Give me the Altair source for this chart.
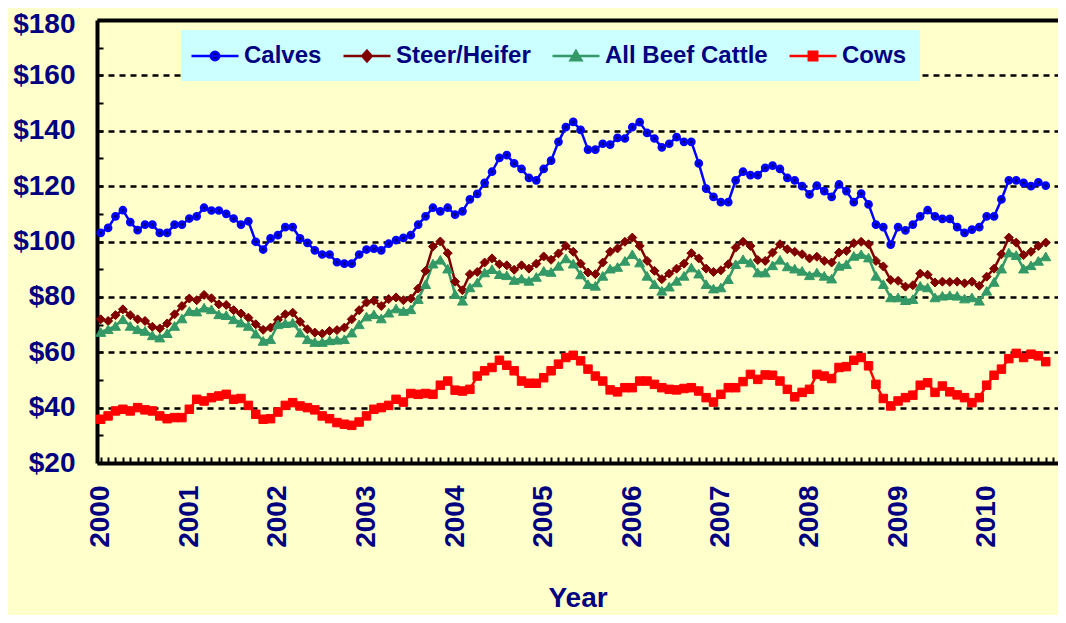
import altair as alt
import pandas as pd

# ---------------- data (monthly, Jan 2000 .. Sep 2010) ----------------
series_names = ["Calves", "Steer/Heifer", "All Beef Cattle", "Cows"]
line_colors = ["#0000FF", "#800000", "#339966", "#FF0000"]
fill_colors = ["#00007A", "#800000", "#339966", "#FF0000"]
marker_shapes = ["circle", "diamond", "triangle-up", "square"]
start_year = 2000

calves = [103.1, 104.9, 109.1, 111.3, 107.0, 104.1, 106.1, 106.1, 103.1, 103.1, 106.1, 106.1,
          108.3, 109.1, 112.2, 111.2, 111.2, 110.0, 108.3, 106.1, 107.3, 99.9, 97.1, 101.1,
          102.3, 105.2, 105.2, 101.1, 99.5, 96.8, 95.3, 95.3, 92.5, 92.0, 92.0, 95.3,
          97.1, 97.4, 96.8, 99.2, 100.5, 101.3, 102.3, 106.1, 109.1, 112.2, 110.9, 112.2,
          109.7, 110.9, 115.2, 117.2, 121.2, 125.2, 130.2, 131.2, 128.2, 126.2, 123.0, 122.1,
          126.2, 129.2, 136.0, 141.3, 143.2, 140.3, 133.2, 133.2, 135.3, 135.0, 137.4, 137.2,
          141.3, 143.1, 139.2, 137.2, 134.0, 135.3, 137.7, 136.0, 136.0, 128.2, 119.1, 116.1,
          114.2, 114.2, 122.1, 125.2, 124.0, 124.0, 126.6, 127.4, 126.2, 123.0, 122.1, 120.0,
          117.0, 120.2, 118.2, 116.1, 120.6, 118.2, 114.2, 117.3, 113.4, 106.1, 105.2, 98.9,
          105.2, 104.0, 106.1, 109.1, 111.3, 109.1, 108.2, 108.2, 105.2, 103.1, 104.3, 105.2,
          109.1, 109.1, 115.2, 122.1, 122.1, 121.2, 120.0, 121.4, 120.2]

steer = [71.9, 71.3, 73.4, 75.5, 73.4, 71.9, 71.3, 69.2, 68.6, 70.4, 73.7, 76.7,
         79.4, 78.8, 80.7, 79.5, 77.3, 77.1, 75.2, 74.0, 72.5, 70.1, 68.1, 68.9,
         71.7, 73.7, 74.3, 71.0, 68.3, 67.1, 66.7, 67.7, 68.0, 68.9, 71.9, 75.2,
         78.0, 78.6, 76.7, 79.2, 79.8, 78.8, 79.4, 83.0, 89.4, 98.2, 100.0, 95.8,
         85.5, 82.4, 88.2, 89.0, 92.4, 93.9, 91.8, 91.4, 89.8, 91.4, 90.2, 92.0,
         94.6, 93.4, 95.7, 98.4, 96.3, 92.0, 88.8, 88.2, 92.4, 96.3, 97.5, 99.9,
         101.4, 98.4, 93.0, 89.4, 86.4, 88.4, 90.2, 92.0, 95.8, 93.9, 90.2, 89.0,
         89.6, 91.8, 97.8, 99.9, 98.4, 93.3, 93.0, 96.0, 99.0, 97.2, 96.3, 95.4,
         93.9, 94.5, 93.0, 92.4, 96.0, 96.6, 99.4, 99.9, 99.0, 93.0, 91.0, 86.1,
         85.8, 83.7, 84.2, 88.4, 88.0, 85.2, 85.5, 85.4, 85.5, 84.9, 85.5, 84.0,
         87.3, 90.2, 95.4, 101.4, 99.6, 95.1, 96.3, 98.4, 99.6]

all_beef = [67.3, 68.3, 69.5, 71.9, 69.5, 68.3, 67.7, 66.1, 65.3, 66.9, 69.5, 72.2,
            74.9, 74.7, 76.1, 75.5, 73.7, 73.4, 71.9, 70.7, 69.5, 66.7, 64.1, 64.7,
            70.1, 70.5, 70.7, 67.1, 64.7, 63.7, 63.7, 64.3, 64.5, 64.7, 67.1, 70.1,
            72.9, 73.7, 72.2, 74.3, 75.8, 74.9, 75.5, 79.2, 84.6, 92.0, 93.4, 90.2,
            81.0, 78.6, 83.4, 85.2, 88.8, 90.0, 88.2, 87.8, 86.1, 86.6, 85.8, 87.2,
            89.4, 89.0, 91.2, 93.9, 92.0, 88.1, 84.6, 84.0, 87.6, 90.2, 90.8, 93.0,
            95.4, 92.4, 87.6, 84.6, 82.2, 83.7, 85.8, 87.6, 90.6, 88.4, 84.6, 83.0,
            83.4, 86.4, 91.8, 93.6, 92.4, 88.8, 88.8, 91.4, 93.4, 91.0, 90.2, 89.4,
            87.8, 88.8, 87.6, 86.6, 91.2, 91.8, 94.8, 95.4, 94.2, 87.6, 84.6, 79.8,
            79.8, 78.8, 79.2, 84.0, 83.4, 79.8, 80.4, 80.6, 80.4, 79.4, 79.8, 78.6,
            82.2, 85.4, 90.2, 96.0, 95.1, 90.2, 91.4, 93.0, 94.6]

cows = [35.8, 37.0, 38.8, 39.4, 38.8, 40.0, 39.2, 38.8, 37.0, 36.0, 36.4, 36.4,
        39.4, 43.0, 42.4, 43.6, 44.2, 44.8, 43.0, 43.3, 40.8, 37.6, 35.8, 36.0,
        38.4, 40.8, 41.8, 40.6, 40.0, 39.2, 37.0, 36.0, 34.6, 34.0, 33.6, 34.8,
        37.0, 39.4, 40.0, 40.8, 43.0, 42.0, 45.1, 44.8, 45.1, 44.8, 48.1, 49.6,
        46.3, 46.0, 46.6, 51.4, 53.3, 54.5, 57.1, 55.3, 53.3, 49.6, 48.8, 48.8,
        50.8, 53.3, 55.7, 58.1, 58.9, 56.9, 53.9, 51.4, 49.6, 46.4, 45.7, 47.2,
        47.2, 49.6, 49.6, 48.4, 47.2, 46.6, 46.4, 46.9, 47.2, 46.0, 43.6, 42.0,
        44.8, 47.2, 47.2, 49.4, 52.0, 50.2, 51.8, 51.7, 49.6, 46.6, 43.9, 45.5,
        46.6, 52.0, 51.4, 50.5, 54.5, 54.8, 57.1, 58.1, 55.1, 48.4, 43.3, 40.6,
        42.4, 43.6, 44.5, 48.1, 49.0, 45.5, 47.8, 45.7, 44.6, 43.6, 41.8, 43.6,
        48.1, 51.7, 53.9, 57.7, 59.6, 58.1, 59.3, 58.7, 56.6]

year_ticks = list(range(2000, 2011))
dollar_ticks = [20, 40, 60, 80, 100, 120, 140, 160, 180]
minor_dollar_ticks = list(range(20, 181, 10))
month_ticks = [2000 + k / 12 for k in range(0, 130)]

# legend symbols: a line with the series marker in the middle
legend_paths = [
    "M-2,0L2,0M-0.36,0A0.36,0.36,0,1,0,0.36,0A0.36,0.36,0,1,0,-0.36,0Z",
    "M-2,0L2,0M0,-0.45L0.4,0L0,0.45L-0.4,0Z",
    "M-2,0L2,0M0,-0.42L0.46,0.36L-0.46,0.36Z",
    "M-2,0L2,0M-0.36,-0.36L0.36,-0.36L0.36,0.36L-0.36,0.36Z",
]

rows = []
for name, vals in zip(series_names, [calves, steer, all_beef, cows]):
    for i, v in enumerate(vals):
        rows.append({"t": start_year + i / 12, "price": v, "series": name})
df = pd.DataFrame(rows)
legend_df = pd.DataFrame({"series": series_names})

W, H = 961, 443
xs = alt.Scale(domain=[1999.958, 2010.805], nice=False, zero=False)
ys = alt.Scale(domain=[20, 180], nice=False, zero=False)

lines = alt.Chart(df).mark_line(strokeWidth=2.5).encode(
    x=alt.X("t:Q", scale=xs, axis=alt.Axis(
        values=year_ticks, format="d", labelAngle=-90, ticks=False,
        domainColor="black", domainWidth=4, grid=False, title="Year",
        labelPadding=22, titlePadding=37)),
    y=alt.Y("price:Q", scale=ys, axis=alt.Axis(
        values=dollar_ticks, format="$.0f", ticks=False,
        domainColor="black", domainWidth=4, grid=True, gridColor="black",
        gridDash={"condition": {"test": "datum.value >= 180", "value": []}, "value": [6, 5]},
        gridWidth={"condition": {"test": "datum.value >= 180", "value": 4}, "value": 2.5},
        gridOpacity={"condition": {"test": "datum.value <= 20", "value": 0}, "value": 1},
        labelOffset={"condition": {"test": "datum.value >= 180", "value": 4}, "value": 0},
        title=None, labelPadding=22)),
    color=alt.Color("series:N", scale=alt.Scale(domain=series_names, range=line_colors), legend=None),
)

points = alt.Chart(df).mark_point(filled=True, opacity=1).encode(
    x=alt.X("t:Q", scale=xs, axis=alt.Axis(
        orient="top", offset=-H, values=month_ticks, labels=False, domain=False,
        grid=False, tickSize=6, tickWidth=2, tickColor="black", title=None)),
    y=alt.Y("price:Q", scale=ys, axis=alt.Axis(
        orient="right", offset=-W, values=minor_dollar_ticks, labels=False, domain=False,
        grid=False, tickSize=6, tickWidth=2, tickColor="black", title=None)),
    shape=alt.Shape("series:N", scale=alt.Scale(domain=series_names, range=marker_shapes), legend=None),
    fill=alt.Fill("series:N", scale=alt.Scale(domain=series_names, range=fill_colors), legend=None),
    stroke=alt.Stroke("series:N", scale=alt.Scale(domain=series_names, range=line_colors), legend=None),
    size=alt.Size("series:N", scale=alt.Scale(type="ordinal", domain=series_names, range=[35, 81, 100, 72]), legend=None),
    strokeWidth=alt.StrokeWidth("series:N", scale=alt.Scale(type="ordinal", domain=series_names, range=[2.8, 1, 1, 1]), legend=None),
)

legend_def = alt.Legend(
    title=None, orient="none", legendX=84, legendY=10, direction="horizontal",
    fillColor="#CCFFFF", padding=13, columnPadding=16,
    labelFont="Liberation Sans", labelFontSize=24, labelFontWeight="bold",
    labelColor="#000080", labelLimit=400, labelOffset=16,
    symbolSize=552, symbolStrokeWidth=2.5, symbolOffset=8, symbolOpacity=1,
    symbolFillColor="#000080", symbolStrokeColor="#000080",
)

legend_layer = alt.Chart(legend_df).mark_point(filled=True, opacity=0).encode(
    shape=alt.Shape("series:N", scale=alt.Scale(domain=series_names, range=legend_paths), legend=legend_def),
    fill=alt.Fill("series:N", scale=alt.Scale(domain=series_names, range=fill_colors), legend=legend_def),
    stroke=alt.Stroke("series:N", scale=alt.Scale(domain=series_names, range=line_colors), legend=legend_def),
)

chart = alt.layer(lines, points, legend_layer).resolve_axis(
    x="independent", y="independent"
).resolve_scale(
    shape="independent", fill="independent", stroke="independent"
).properties(
    width=W, height=H,
    padding={"left": 89, "top": 12, "right": 0, "bottom": 152},
    autosize=alt.AutoSizeParams(type="none"),
    background="#FFFFCC",
).configure_view(
    stroke="transparent"
).configure_axis(
    labelFont="Liberation Sans", labelFontSize=28, labelFontWeight="bold", labelColor="#000080",
    titleFont="Liberation Sans", titleFontSize=28, titleFontWeight="bold", titleColor="#000080",
)

chart.save("out.html", embed_options={"renderer": "svg", "actions": False})
